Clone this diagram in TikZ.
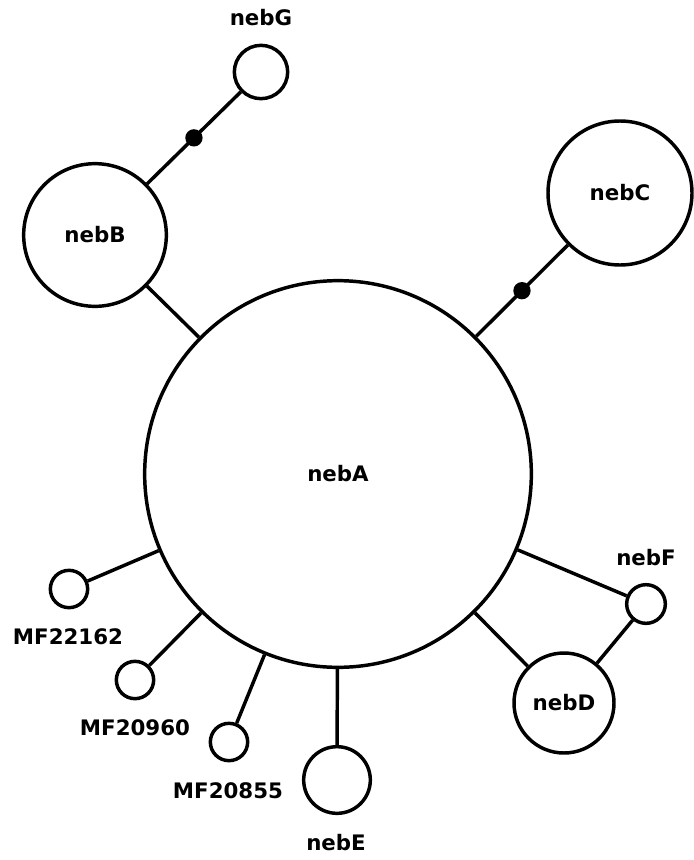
\documentclass[tikz,border=0pt]{standalone}
\usepackage{fontspec}
\setmainfont{DejaVu Sans}
\begin{document}
\begin{tikzpicture}[x=0.75pt,y=-0.75pt,
  vert/.style={circle,draw,line width=2.6pt,inner sep=0pt,font=\bfseries\fontsize{16}{19}\selectfont},
  lbl/.style={font=\bfseries\fontsize{16}{19}\selectfont,inner sep=0pt},
  link/.style={line width=2.6pt},
  knot/.style={circle,fill,inner sep=0pt,minimum size=13pt}]
\useasboundingbox (0,0) rectangle (693,860);

% haplotype circles
\node[vert,minimum size=290pt] (A) at (338,474) {nebA};
\node[vert,minimum size=107pt] (B) at (95,235) {nebB};
\node[vert,minimum size=108pt] (C) at (620,193) {nebC};
\node[vert,minimum size=75pt] (D) at (564,703) {nebD};
\node[vert,minimum size=50pt] (E) at (337,780) {};
\node[vert,minimum size=29pt] (F) at (646,604) {};
\node[vert,minimum size=40pt] (G) at (261,72) {};
\node[vert,minimum size=28pt] (M1) at (69,589) {};
\node[vert,minimum size=28pt] (M2) at (135,680) {};
\node[vert,minimum size=28pt] (M3) at (229,742) {};

% labels beside the small circles
\node[lbl] (lG) at (261,18) {nebG};
\node[lbl] (lE) at (336,843) {nebE};
\node[lbl] (lF) at (646,558) {nebF};
\node[lbl] (l1) at (68,637) {MF22162};
\node[lbl] (l2) at (135,728) {MF20960};
\node[lbl] (l3) at (228,791) {MF20855};

% links
\draw[link] (A) -- (B);
\draw[link] (B) -- node[knot,pos=0.5] (k1) {} (G);
\draw[link] (A) -- node[knot,pos=0.5] (k2) {} (C);
\draw[link] (A) -- (D);
\draw[link] (A) -- (E);
\draw[link] (A) -- (F);
\draw[link] (D) -- (F);
\draw[link] (A) -- (M1);
\draw[link] (A) -- (M2);
\draw[link] (A) -- (M3);
\end{tikzpicture}
\end{document}
